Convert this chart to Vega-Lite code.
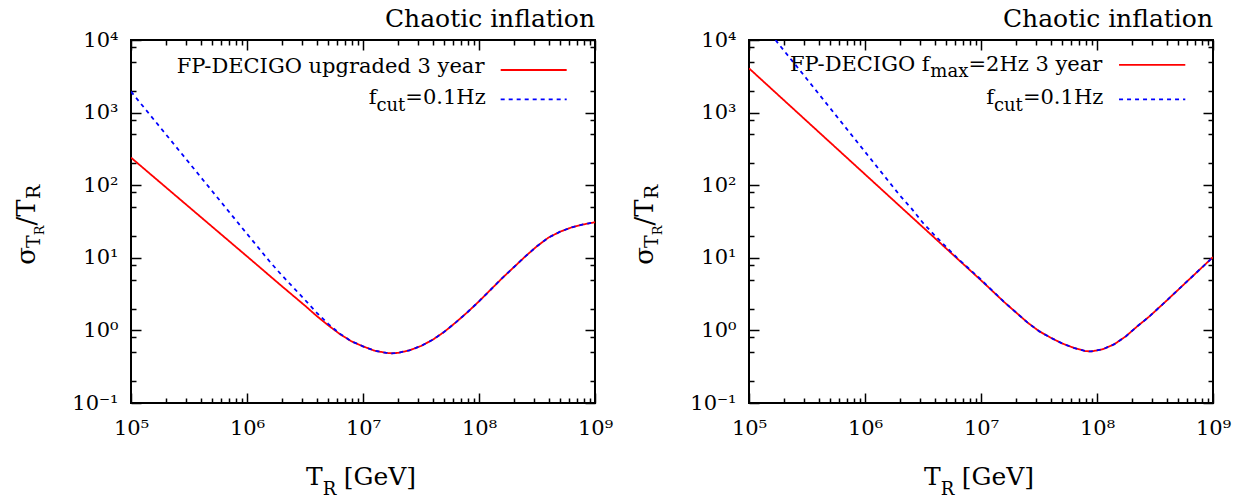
{
  "$schema": "https://vega.github.io/schema/vega-lite/v6.json",
  "background": "white",
  "padding": {"left": 12, "top": 6, "right": 5, "bottom": 2},
  "spacing": 154,
  "bounds": "flush",
  "config": {
    "view": {"stroke": "black", "strokeWidth": 2},
    "axis": {"grid": false, "domain": false, "tickColor": "black", "labelColor": "black", "labelFont": "DejaVu Serif", "labelFontSize": 21},
    "text": {"font": "DejaVu Serif", "color": "black", "baseline": "alphabetic"}
  },
  "datasets": {
    "leftLines": [
      {"series": "FP-DECIGO", "T": 100000, "s": 239.9},
      {"series": "FP-DECIGO", "T": 316228, "s": 50.1},
      {"series": "FP-DECIGO", "T": 1000000, "s": 10.47},
      {"series": "FP-DECIGO", "T": 1995262, "s": 4.07},
      {"series": "FP-DECIGO", "T": 3162278, "s": 2.19},
      {"series": "FP-DECIGO", "T": 3981072, "s": 1.585},
      {"series": "FP-DECIGO", "T": 5011872, "s": 1.175},
      {"series": "FP-DECIGO", "T": 6309573, "s": 0.891},
      {"series": "FP-DECIGO", "T": 7943282, "s": 0.708},
      {"series": "FP-DECIGO", "T": 10000000, "s": 0.603},
      {"series": "FP-DECIGO", "T": 12589254, "s": 0.525},
      {"series": "FP-DECIGO", "T": 15848932, "s": 0.49},
      {"series": "FP-DECIGO", "T": 17782794, "s": 0.484},
      {"series": "FP-DECIGO", "T": 19952623, "s": 0.49},
      {"series": "FP-DECIGO", "T": 25118864, "s": 0.531},
      {"series": "FP-DECIGO", "T": 31622777, "s": 0.61},
      {"series": "FP-DECIGO", "T": 39810717, "s": 0.741},
      {"series": "FP-DECIGO", "T": 50118723, "s": 0.955},
      {"series": "FP-DECIGO", "T": 63095734, "s": 1.288},
      {"series": "FP-DECIGO", "T": 79432823, "s": 1.778},
      {"series": "FP-DECIGO", "T": 100000000, "s": 2.512},
      {"series": "FP-DECIGO", "T": 125892541, "s": 3.631},
      {"series": "FP-DECIGO", "T": 158489319, "s": 5.248},
      {"series": "FP-DECIGO", "T": 199526231, "s": 7.413},
      {"series": "FP-DECIGO", "T": 251188643, "s": 10.47},
      {"series": "FP-DECIGO", "T": 316227766, "s": 14.45},
      {"series": "FP-DECIGO", "T": 398107171, "s": 19.05},
      {"series": "FP-DECIGO", "T": 501187234, "s": 22.91},
      {"series": "FP-DECIGO", "T": 630957344, "s": 26.3},
      {"series": "FP-DECIGO", "T": 794328235, "s": 28.84},
      {"series": "FP-DECIGO", "T": 1000000000, "s": 30.9},
      {"series": "fcut=0.1Hz", "T": 100000, "s": 1950},
      {"series": "fcut=0.1Hz", "T": 316228, "s": 204.2},
      {"series": "fcut=0.1Hz", "T": 1000000, "s": 21.38},
      {"series": "fcut=0.1Hz", "T": 1584893, "s": 8.71},
      {"series": "fcut=0.1Hz", "T": 1995262, "s": 5.754},
      {"series": "fcut=0.1Hz", "T": 2511886, "s": 3.89},
      {"series": "fcut=0.1Hz", "T": 3162278, "s": 2.63},
      {"series": "fcut=0.1Hz", "T": 3981072, "s": 1.758},
      {"series": "fcut=0.1Hz", "T": 5011872, "s": 1.23},
      {"series": "fcut=0.1Hz", "T": 6309573, "s": 0.902},
      {"series": "fcut=0.1Hz", "T": 7943282, "s": 0.708},
      {"series": "fcut=0.1Hz", "T": 10000000, "s": 0.603},
      {"series": "fcut=0.1Hz", "T": 12589254, "s": 0.525},
      {"series": "fcut=0.1Hz", "T": 15848932, "s": 0.49},
      {"series": "fcut=0.1Hz", "T": 17782794, "s": 0.484},
      {"series": "fcut=0.1Hz", "T": 19952623, "s": 0.49},
      {"series": "fcut=0.1Hz", "T": 25118864, "s": 0.531},
      {"series": "fcut=0.1Hz", "T": 31622777, "s": 0.61},
      {"series": "fcut=0.1Hz", "T": 39810717, "s": 0.741},
      {"series": "fcut=0.1Hz", "T": 50118723, "s": 0.955},
      {"series": "fcut=0.1Hz", "T": 63095734, "s": 1.288},
      {"series": "fcut=0.1Hz", "T": 79432823, "s": 1.778},
      {"series": "fcut=0.1Hz", "T": 100000000, "s": 2.512},
      {"series": "fcut=0.1Hz", "T": 125892541, "s": 3.631},
      {"series": "fcut=0.1Hz", "T": 158489319, "s": 5.248},
      {"series": "fcut=0.1Hz", "T": 199526231, "s": 7.413},
      {"series": "fcut=0.1Hz", "T": 251188643, "s": 10.47},
      {"series": "fcut=0.1Hz", "T": 316227766, "s": 14.45},
      {"series": "fcut=0.1Hz", "T": 398107171, "s": 19.05},
      {"series": "fcut=0.1Hz", "T": 501187234, "s": 22.91},
      {"series": "fcut=0.1Hz", "T": 630957344, "s": 26.3},
      {"series": "fcut=0.1Hz", "T": 794328235, "s": 28.84},
      {"series": "fcut=0.1Hz", "T": 1000000000, "s": 30.9}
    ],
    "rightLines": [
      {"series": "FP-DECIGO", "T": 100000, "s": 4074},
      {"series": "FP-DECIGO", "T": 316228, "s": 758.6},
      {"series": "FP-DECIGO", "T": 1000000, "s": 141.3},
      {"series": "FP-DECIGO", "T": 3162278, "s": 26.3},
      {"series": "FP-DECIGO", "T": 10000000, "s": 4.898},
      {"series": "FP-DECIGO", "T": 15848932, "s": 2.455},
      {"series": "FP-DECIGO", "T": 19952623, "s": 1.778},
      {"series": "FP-DECIGO", "T": 25118864, "s": 1.288},
      {"series": "FP-DECIGO", "T": 31622777, "s": 0.977},
      {"series": "FP-DECIGO", "T": 39810717, "s": 0.794},
      {"series": "FP-DECIGO", "T": 50118723, "s": 0.661},
      {"series": "FP-DECIGO", "T": 63095734, "s": 0.575},
      {"series": "FP-DECIGO", "T": 79432823, "s": 0.519},
      {"series": "FP-DECIGO", "T": 89125094, "s": 0.513},
      {"series": "FP-DECIGO", "T": 112201845, "s": 0.55},
      {"series": "FP-DECIGO", "T": 141253754, "s": 0.646},
      {"series": "FP-DECIGO", "T": 177827941, "s": 0.832},
      {"series": "FP-DECIGO", "T": 223872114, "s": 1.148},
      {"series": "FP-DECIGO", "T": 281838293, "s": 1.549},
      {"series": "FP-DECIGO", "T": 398107171, "s": 2.57},
      {"series": "FP-DECIGO", "T": 630957344, "s": 5.129},
      {"series": "FP-DECIGO", "T": 1000000000, "s": 10.23},
      {"series": "fcut=0.1Hz", "T": 169044, "s": 10000},
      {"series": "fcut=0.1Hz", "T": 316228, "s": 2884},
      {"series": "fcut=0.1Hz", "T": 1000000, "s": 288.4},
      {"series": "fcut=0.1Hz", "T": 1995262, "s": 72.44},
      {"series": "fcut=0.1Hz", "T": 2511886, "s": 47.86},
      {"series": "fcut=0.1Hz", "T": 3162278, "s": 30.2},
      {"series": "fcut=0.1Hz", "T": 3981072, "s": 20.42},
      {"series": "fcut=0.1Hz", "T": 5011872, "s": 14.13},
      {"series": "fcut=0.1Hz", "T": 6309573, "s": 9.772},
      {"series": "fcut=0.1Hz", "T": 10000000, "s": 5.012},
      {"series": "fcut=0.1Hz", "T": 15848932, "s": 2.455},
      {"series": "fcut=0.1Hz", "T": 19952623, "s": 1.778},
      {"series": "fcut=0.1Hz", "T": 25118864, "s": 1.288},
      {"series": "fcut=0.1Hz", "T": 31622777, "s": 0.977},
      {"series": "fcut=0.1Hz", "T": 39810717, "s": 0.794},
      {"series": "fcut=0.1Hz", "T": 50118723, "s": 0.661},
      {"series": "fcut=0.1Hz", "T": 63095734, "s": 0.575},
      {"series": "fcut=0.1Hz", "T": 79432823, "s": 0.519},
      {"series": "fcut=0.1Hz", "T": 89125094, "s": 0.513},
      {"series": "fcut=0.1Hz", "T": 112201845, "s": 0.55},
      {"series": "fcut=0.1Hz", "T": 141253754, "s": 0.646},
      {"series": "fcut=0.1Hz", "T": 177827941, "s": 0.832},
      {"series": "fcut=0.1Hz", "T": 223872114, "s": 1.148},
      {"series": "fcut=0.1Hz", "T": 281838293, "s": 1.549},
      {"series": "fcut=0.1Hz", "T": 398107171, "s": 2.57},
      {"series": "fcut=0.1Hz", "T": 630957344, "s": 5.129},
      {"series": "fcut=0.1Hz", "T": 1000000000, "s": 10.23}
    ]
  },
  "hconcat": [
    {
      "width": 464,
      "height": 363,
      "title": {"text": "Chaotic inflation", "anchor": "end", "frame": "group", "font": "DejaVu Serif", "fontSize": 25, "fontWeight": "normal", "color": "black", "offset": -3},
      "resolve": {"axis": {"x": "independent", "y": "independent"}},
      "layer": [
        {
          "data": {"name": "leftLines"},
          "mark": {"type": "line", "clip": true, "strokeWidth": 1.8},
          "encoding": {
            "x": {"field": "T", "type": "quantitative", "scale": {"type": "log", "domain": [100000, 1000000000], "nice": false},
                  "axis": {"orient": "bottom", "title": null, "values": [100000, 1000000, 10000000, 100000000, 1000000000], "ticks": false, "labelPadding": 14, "labelFlush": false, "labelOverlap": false, "labelBound": false,
                           "labelExpr": "datum.value > 5e8 ? '10⁹' : datum.value > 5e7 ? '10⁸' : datum.value > 5e6 ? '10⁷' : datum.value > 5e5 ? '10⁶' : '10⁵'"}},
            "y": {"field": "s", "type": "quantitative", "scale": {"type": "log", "domain": [0.1, 10000], "nice": false},
                  "axis": {"orient": "left", "title": null, "values": [0.1, 1, 10, 100, 1000, 10000], "ticks": false, "labelPadding": 13, "labelFlush": false, "labelOverlap": false, "labelBound": false,
                           "labelExpr": "datum.value > 5e3 ? '10⁴' : datum.value > 500 ? '10³' : datum.value > 50 ? '10²' : datum.value > 5 ? '10¹' : datum.value > 0.5 ? '10⁰' : '10⁻¹'"}},
            "color": {"field": "series", "type": "nominal", "scale": {"domain": ["FP-DECIGO", "fcut=0.1Hz"], "range": ["#ff0000", "#0000ff"]}, "legend": null},
            "strokeDash": {"field": "series", "type": "nominal", "scale": {"domain": ["FP-DECIGO", "fcut=0.1Hz"], "range": [[1, 0], [4, 4]]}, "legend": null}
          }
        },
        {
          "data": {"values": [{}]},
          "mark": {"type": "rule", "color": "#ff0000", "strokeWidth": 1.8},
          "encoding": {
            "x": {"datum": 153800000, "type": "quantitative", "axis": {"orient": "bottom", "title": null, "labels": false, "values": [100000, 1000000, 10000000, 100000000, 1000000000], "tickSize": -10, "tickWidth": 1.5}},
            "x2": {"datum": 570000000},
            "y": {"datum": 3864, "type": "quantitative", "axis": {"orient": "left", "title": null, "labels": false, "values": [0.1, 1, 10, 100, 1000, 10000], "tickSize": -10, "tickWidth": 1.5}}
          }
        },
        {
          "data": {"values": [{}]},
          "mark": {"type": "rule", "color": "#0000ff", "strokeWidth": 1.8, "strokeDash": [4, 4]},
          "encoding": {
            "x": {"datum": 153800000, "type": "quantitative", "axis": {"orient": "bottom", "title": null, "labels": false, "values": [200000, 300000, 400000, 500000, 600000, 700000, 800000, 900000, 2000000, 3000000, 4000000, 5000000, 6000000, 7000000, 8000000, 9000000, 20000000, 30000000, 40000000, 50000000, 60000000, 70000000, 80000000, 90000000, 200000000, 300000000, 400000000, 500000000, 600000000, 700000000, 800000000, 900000000], "tickSize": -5, "tickWidth": 1.5}},
            "x2": {"datum": 570000000},
            "y": {"datum": 1521, "type": "quantitative", "axis": {"orient": "left", "title": null, "labels": false, "values": [0.2, 0.5, 0.8, 2, 5, 8, 20, 50, 80, 200, 500, 800, 2000, 5000, 8000], "tickSize": -5, "tickWidth": 1.5}}
          }
        },
        {
          "data": {"values": [{}]},
          "mark": {"type": "text", "text": "FP-DECIGO upgraded 3 year", "align": "right", "fontSize": 21},
          "encoding": {
            "x": {"datum": 111400000, "type": "quantitative", "axis": {"orient": "top", "title": null, "labels": false, "values": [100000, 1000000, 10000000, 100000000, 1000000000], "tickSize": -10, "tickWidth": 1.5}},
            "y": {"datum": 3467, "type": "quantitative", "axis": {"orient": "right", "title": null, "labels": false, "values": [0.1, 1, 10, 100, 1000, 10000], "tickSize": -10, "tickWidth": 1.5}}
          }
        },
        {
          "data": {"values": [{}]},
          "mark": {"type": "text", "text": "=0.1Hz", "align": "right", "fontSize": 21},
          "encoding": {
            "x": {"datum": 114300000, "type": "quantitative", "axis": {"orient": "top", "title": null, "labels": false, "values": [200000, 300000, 400000, 500000, 600000, 700000, 800000, 900000, 2000000, 3000000, 4000000, 5000000, 6000000, 7000000, 8000000, 9000000, 20000000, 30000000, 40000000, 50000000, 60000000, 70000000, 80000000, 90000000, 200000000, 300000000, 400000000, 500000000, 600000000, 700000000, 800000000, 900000000], "tickSize": -5, "tickWidth": 1.5}},
            "y": {"datum": 1297, "type": "quantitative", "axis": {"orient": "right", "title": null, "labels": false, "values": [0.2, 0.5, 0.8, 2, 5, 8, 20, 50, 80, 200, 500, 800, 2000, 5000, 8000], "tickSize": -5, "tickWidth": 1.5}}
          }
        },
        {
          "data": {"values": [{}]},
          "mark": {"type": "text", "text": "cut", "align": "right", "fontSize": 18},
          "encoding": {"x": {"datum": 23160000, "type": "quantitative", "axis": null}, "y": {"datum": 1052, "type": "quantitative", "axis": null}}
        },
        {
          "data": {"values": [{}]},
          "mark": {"type": "text", "text": "f", "align": "right", "fontSize": 21},
          "encoding": {"x": {"datum": 13070000, "type": "quantitative", "axis": null}, "y": {"datum": 1297, "type": "quantitative", "axis": null}}
        },
        {
          "data": {"values": [{}]},
          "mark": {"type": "text", "text": "T", "align": "right", "fontSize": 25},
          "encoding": {"x": {"datum": 4494000, "type": "quantitative", "axis": null}, "y": {"datum": 0.00733, "type": "quantitative", "axis": null}}
        },
        {
          "data": {"values": [{}]},
          "mark": {"type": "text", "text": "R", "align": "left", "fontSize": 18},
          "encoding": {"x": {"datum": 4494000, "type": "quantitative", "axis": null}, "y": {"datum": 0.00533, "type": "quantitative", "axis": null}}
        },
        {
          "data": {"values": [{}]},
          "mark": {"type": "text", "text": "[GeV]", "align": "left", "fontSize": 25},
          "encoding": {"x": {"datum": 6818000, "type": "quantitative", "axis": null}, "y": {"datum": 0.00733, "type": "quantitative", "axis": null}}
        },
        {
          "data": {"values": [{}]},
          "mark": {"type": "text", "text": "σ", "align": "left", "angle": 270, "fontSize": 26},
          "encoding": {"x": {"datum": 14790, "type": "quantitative", "axis": null}, "y": {"datum": 8.04, "type": "quantitative", "axis": null}}
        },
        {
          "data": {"values": [{}]},
          "mark": {"type": "text", "text": "T", "align": "left", "angle": 270, "fontSize": 19},
          "encoding": {"x": {"datum": 16490, "type": "quantitative", "axis": null}, "y": {"datum": 13.61, "type": "quantitative", "axis": null}}
        },
        {
          "data": {"values": [{}]},
          "mark": {"type": "text", "text": "R", "align": "left", "angle": 270, "fontSize": 13},
          "encoding": {"x": {"datum": 17850, "type": "quantitative", "axis": null}, "y": {"datum": 20.37, "type": "quantitative", "axis": null}}
        },
        {
          "data": {"values": [{}]},
          "mark": {"type": "text", "text": "/T", "align": "left", "angle": 270, "fontSize": 26},
          "encoding": {"x": {"datum": 14790, "type": "quantitative", "axis": null}, "y": {"datum": 27.93, "type": "quantitative", "axis": null}}
        },
        {
          "data": {"values": [{}]},
          "mark": {"type": "text", "text": "R", "align": "left", "angle": 270, "fontSize": 19},
          "encoding": {"x": {"datum": 16490, "type": "quantitative", "axis": null}, "y": {"datum": 64.3, "type": "quantitative", "axis": null}}
        }
      ]
    },
    {
      "width": 464,
      "height": 363,
      "title": {"text": "Chaotic inflation", "anchor": "end", "frame": "group", "font": "DejaVu Serif", "fontSize": 25, "fontWeight": "normal", "color": "black", "offset": -3},
      "resolve": {"axis": {"x": "independent", "y": "independent"}},
      "layer": [
        {
          "data": {"name": "rightLines"},
          "mark": {"type": "line", "clip": true, "strokeWidth": 1.8},
          "encoding": {
            "x": {"field": "T", "type": "quantitative", "scale": {"type": "log", "domain": [100000, 1000000000], "nice": false},
                  "axis": {"orient": "bottom", "title": null, "values": [100000, 1000000, 10000000, 100000000, 1000000000], "ticks": false, "labelPadding": 14, "labelFlush": false, "labelOverlap": false, "labelBound": false,
                           "labelExpr": "datum.value > 5e8 ? '10⁹' : datum.value > 5e7 ? '10⁸' : datum.value > 5e6 ? '10⁷' : datum.value > 5e5 ? '10⁶' : '10⁵'"}},
            "y": {"field": "s", "type": "quantitative", "scale": {"type": "log", "domain": [0.1, 10000], "nice": false},
                  "axis": {"orient": "left", "title": null, "values": [0.1, 1, 10, 100, 1000, 10000], "ticks": false, "labelPadding": 13, "labelFlush": false, "labelOverlap": false, "labelBound": false,
                           "labelExpr": "datum.value > 5e3 ? '10⁴' : datum.value > 500 ? '10³' : datum.value > 50 ? '10²' : datum.value > 5 ? '10¹' : datum.value > 0.5 ? '10⁰' : '10⁻¹'"}},
            "color": {"field": "series", "type": "nominal", "scale": {"domain": ["FP-DECIGO", "fcut=0.1Hz"], "range": ["#ff0000", "#0000ff"]}, "legend": null},
            "strokeDash": {"field": "series", "type": "nominal", "scale": {"domain": ["FP-DECIGO", "fcut=0.1Hz"], "range": [[1, 0], [4, 4]]}, "legend": null}
          }
        },
        {
          "data": {"values": [{}]},
          "mark": {"type": "rule", "color": "#ff0000", "strokeWidth": 1.8},
          "encoding": {
            "x": {"datum": 154900000, "type": "quantitative", "axis": {"orient": "bottom", "title": null, "labels": false, "values": [100000, 1000000, 10000000, 100000000, 1000000000], "tickSize": -10, "tickWidth": 1.5}},
            "x2": {"datum": 577000000},
            "y": {"datum": 4529, "type": "quantitative", "axis": {"orient": "left", "title": null, "labels": false, "values": [0.1, 1, 10, 100, 1000, 10000], "tickSize": -10, "tickWidth": 1.5}}
          }
        },
        {
          "data": {"values": [{}]},
          "mark": {"type": "rule", "color": "#0000ff", "strokeWidth": 1.8, "strokeDash": [4, 4]},
          "encoding": {
            "x": {"datum": 154900000, "type": "quantitative", "axis": {"orient": "bottom", "title": null, "labels": false, "values": [200000, 300000, 400000, 500000, 600000, 700000, 800000, 900000, 2000000, 3000000, 4000000, 5000000, 6000000, 7000000, 8000000, 9000000, 20000000, 30000000, 40000000, 50000000, 60000000, 70000000, 80000000, 90000000, 200000000, 300000000, 400000000, 500000000, 600000000, 700000000, 800000000, 900000000], "tickSize": -5, "tickWidth": 1.5}},
            "x2": {"datum": 577000000},
            "y": {"datum": 1521, "type": "quantitative", "axis": {"orient": "left", "title": null, "labels": false, "values": [0.2, 0.5, 0.8, 2, 5, 8, 20, 50, 80, 200, 500, 800, 2000, 5000, 8000], "tickSize": -5, "tickWidth": 1.5}}
          }
        },
        {
          "data": {"values": [{}]},
          "mark": {"type": "text", "text": "=2Hz 3 year", "align": "right", "fontSize": 21},
          "encoding": {
            "x": {"datum": 111200000, "type": "quantitative", "axis": {"orient": "top", "title": null, "labels": false, "values": [100000, 1000000, 10000000, 100000000, 1000000000], "tickSize": -10, "tickWidth": 1.5}},
            "y": {"datum": 3743, "type": "quantitative", "axis": {"orient": "right", "title": null, "labels": false, "values": [0.1, 1, 10, 100, 1000, 10000], "tickSize": -10, "tickWidth": 1.5}}
          }
        },
        {
          "data": {"values": [{}]},
          "mark": {"type": "text", "text": "=0.1Hz", "align": "right", "fontSize": 21},
          "encoding": {
            "x": {"datum": 113300000, "type": "quantitative", "axis": {"orient": "top", "title": null, "labels": false, "values": [200000, 300000, 400000, 500000, 600000, 700000, 800000, 900000, 2000000, 3000000, 4000000, 5000000, 6000000, 7000000, 8000000, 9000000, 20000000, 30000000, 40000000, 50000000, 60000000, 70000000, 80000000, 90000000, 200000000, 300000000, 400000000, 500000000, 600000000, 700000000, 800000000, 900000000], "tickSize": -5, "tickWidth": 1.5}},
            "y": {"datum": 1297, "type": "quantitative", "axis": {"orient": "right", "title": null, "labels": false, "values": [0.2, 0.5, 0.8, 2, 5, 8, 20, 50, 80, 200, 500, 800, 2000, 5000, 8000], "tickSize": -5, "tickWidth": 1.5}}
          }
        },
        {
          "data": {"values": [{}]},
          "mark": {"type": "text", "text": "max", "align": "right", "fontSize": 18},
          "encoding": {"x": {"datum": 7770000, "type": "quantitative", "axis": null}, "y": {"datum": 3124, "type": "quantitative", "axis": null}}
        },
        {
          "data": {"values": [{}]},
          "mark": {"type": "text", "text": "FP-DECIGO f", "align": "right", "fontSize": 21},
          "encoding": {"x": {"datum": 3606000, "type": "quantitative", "axis": null}, "y": {"datum": 3743, "type": "quantitative", "axis": null}}
        },
        {
          "data": {"values": [{}]},
          "mark": {"type": "text", "text": "cut", "align": "right", "fontSize": 18},
          "encoding": {"x": {"datum": 22960000, "type": "quantitative", "axis": null}, "y": {"datum": 1052, "type": "quantitative", "axis": null}}
        },
        {
          "data": {"values": [{}]},
          "mark": {"type": "text", "text": "f", "align": "right", "fontSize": 21},
          "encoding": {"x": {"datum": 12970000, "type": "quantitative", "axis": null}, "y": {"datum": 1297, "type": "quantitative", "axis": null}}
        },
        {
          "data": {"values": [{}]},
          "mark": {"type": "text", "text": "T", "align": "right", "fontSize": 25},
          "encoding": {"x": {"datum": 4494000, "type": "quantitative", "axis": null}, "y": {"datum": 0.00733, "type": "quantitative", "axis": null}}
        },
        {
          "data": {"values": [{}]},
          "mark": {"type": "text", "text": "R", "align": "left", "fontSize": 18},
          "encoding": {"x": {"datum": 4494000, "type": "quantitative", "axis": null}, "y": {"datum": 0.00533, "type": "quantitative", "axis": null}}
        },
        {
          "data": {"values": [{}]},
          "mark": {"type": "text", "text": "[GeV]", "align": "left", "fontSize": 25},
          "encoding": {"x": {"datum": 6818000, "type": "quantitative", "axis": null}, "y": {"datum": 0.00733, "type": "quantitative", "axis": null}}
        },
        {
          "data": {"values": [{}]},
          "mark": {"type": "text", "text": "σ", "align": "left", "angle": 270, "fontSize": 26},
          "encoding": {"x": {"datum": 14790, "type": "quantitative", "axis": null}, "y": {"datum": 8.04, "type": "quantitative", "axis": null}}
        },
        {
          "data": {"values": [{}]},
          "mark": {"type": "text", "text": "T", "align": "left", "angle": 270, "fontSize": 19},
          "encoding": {"x": {"datum": 16490, "type": "quantitative", "axis": null}, "y": {"datum": 13.61, "type": "quantitative", "axis": null}}
        },
        {
          "data": {"values": [{}]},
          "mark": {"type": "text", "text": "R", "align": "left", "angle": 270, "fontSize": 13},
          "encoding": {"x": {"datum": 17850, "type": "quantitative", "axis": null}, "y": {"datum": 20.37, "type": "quantitative", "axis": null}}
        },
        {
          "data": {"values": [{}]},
          "mark": {"type": "text", "text": "/T", "align": "left", "angle": 270, "fontSize": 26},
          "encoding": {"x": {"datum": 14790, "type": "quantitative", "axis": null}, "y": {"datum": 27.93, "type": "quantitative", "axis": null}}
        },
        {
          "data": {"values": [{}]},
          "mark": {"type": "text", "text": "R", "align": "left", "angle": 270, "fontSize": 19},
          "encoding": {"x": {"datum": 16490, "type": "quantitative", "axis": null}, "y": {"datum": 64.3, "type": "quantitative", "axis": null}}
        }
      ]
    }
  ]
}
